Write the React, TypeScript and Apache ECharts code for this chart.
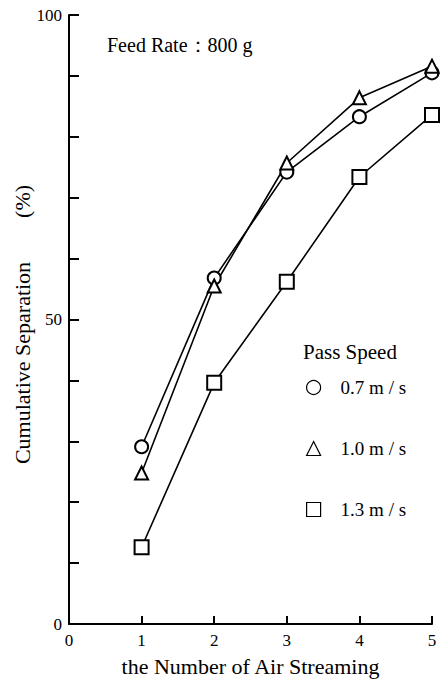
import React, { useEffect, useRef } from "react";
import * as echarts from "echarts";

const xValues = [1, 2, 3, 4, 5];
const series07 = [29.1, 56.8, 74.2, 83.3, 90.5];
const series10 = [24.8, 55.5, 75.7, 86.4, 91.6];
const series13 = [12.6, 39.6, 56.2, 73.4, 83.6];
const seriesNames = ["0.7 m / s", "1.0 m / s", "1.3 m / s"];
const yTickLabels = [0, 50, 100];

const FONT = "'Liberation Serif', 'DejaVu Serif', serif";

export default function App() {
  const ref = useRef<HTMLDivElement>(null);
  useEffect(() => {
    if (!ref.current) return;
    const chart = echarts.init(ref.current, undefined, { renderer: "svg" });
    const mk = (name: string, vals: number[], symbol: string, size: number) => ({
      name,
      type: "line",
      data: xValues.map((x, i) => [x, vals[i]]),
      symbol,
      symbolSize: size,
      showAllSymbol: true,
      lineStyle: { color: "#000", width: 1.6 },
      itemStyle: { color: "#000", borderColor: "#000", borderWidth: 1.6 },
      emphasis: { disabled: true },
    });
    chart.setOption({
      animation: false,
      backgroundColor: "#fff",
      textStyle: { fontFamily: FONT, color: "#000" },
      grid: { left: 69, right: 11, top: 15, bottom: 55, containLabel: false, outerBoundsMode: "none" },
      xAxis: {
        type: "value",
        min: 0,
        max: 5,
        interval: 1,
        name: "the Number of Air Streaming",
        nameLocation: "middle",
        nameGap: 31,
        nameTextStyle: { fontFamily: FONT, fontSize: 22, color: "#000" },
        axisLine: { lineStyle: { color: "#000", width: 2 } },
        axisTick: { inside: true, length: 8, lineStyle: { color: "#000", width: 2 } },
        axisLabel: { fontFamily: FONT, fontSize: 17, color: "#000", margin: 8 },
        splitLine: { show: false },
      },
      yAxis: {
        type: "value",
        min: 0,
        max: 100,
        interval: 10,
        name: "Cumulative Separation\u3000\u3000(%)",
        nameLocation: "middle",
        nameGap: 36,
        nameMoveOverlap: false,
        nameRotate: 90,
        nameTextStyle: { fontFamily: FONT, fontSize: 22, color: "#000", padding: [0, 10, 0, 0] },
        axisLine: { lineStyle: { color: "#000", width: 2 } },
        axisTick: { inside: true, length: 10, lineStyle: { color: "#000", width: 2 } },
        axisLabel: {
          fontFamily: FONT,
          fontSize: 17,
          color: "#000",
          margin: 7,
          formatter: (v: number) => (yTickLabels.includes(v) ? String(v) : ""),
        },
        splitLine: { show: false },
      },
      legend: {
        orient: "vertical",
        left: 306,
        top: 378,
        padding: 0,
        itemWidth: 14,
        itemHeight: 14,
        itemGap: 42,
        selectedMode: false,
        textStyle: { fontFamily: FONT, fontSize: 19, lineHeight: 14, color: "#000", padding: [0, 0, 0, 15] },
        data: [
          { name: seriesNames[0], icon: "circle", itemStyle: { color: "#fff", borderColor: "#000", borderWidth: 1.2 } },
          { name: seriesNames[1], icon: "triangle", itemStyle: { color: "#fff", borderColor: "#000", borderWidth: 1.2 } },
          { name: seriesNames[2], icon: "rect", itemStyle: { color: "#fff", borderColor: "#000", borderWidth: 1.2 } },
        ],
      },
      graphic: [
        {
          type: "text",
          left: 107,
          top: 35,
          style: { text: "Feed Rate\uFF1A800 g", font: `20px ${FONT}`, fill: "#000" },
        },
        {
          type: "text",
          left: 303,
          top: 341,
          style: { text: "Pass Speed", font: `21px ${FONT}`, fill: "#000" },
        },
      ],
      series: [
        mk(seriesNames[0], series07, "emptyCircle", 13),
        mk(seriesNames[1], series10, "emptyTriangle", 13),
        mk(seriesNames[2], series13, "emptyRect", 14),
      ],
    });
    return () => chart.dispose();
  }, []);
  return <div ref={ref} style={{ width: 443, height: 679, position: "absolute", left: 0, top: 0 }} />;
}
